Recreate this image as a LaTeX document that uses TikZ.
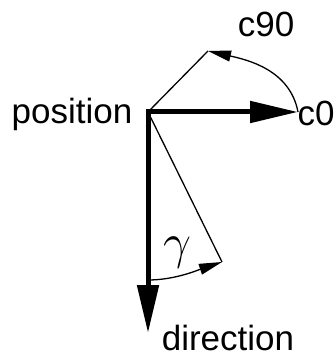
\documentclass[tikz,border=0pt]{standalone}
\usepackage{fontspec}
\setmainfont{Liberation Sans}
\usetikzlibrary{arrows.meta}

\begin{document}
\begin{tikzpicture}[x=0.5pt, y=-0.5pt, every node/.style={font=\fontsize{17.5}{20}\selectfont, inner sep=0pt},
    lbl/.style={anchor=base},
    vec/.style={line width=2.5pt, line join=miter},
    ray/.style={line width=0.65pt},
    bigtip/.tip={Triangle[length=24pt, width=10.5pt]},
    smalltip/.tip={Triangle[length=11.5pt, width=5.5pt]}]
        \useasboundingbox (0,0) rectangle (335,356);
        \coordinate (pos) at (148,112);
        \coordinate (c0tip) at (298,112);
        \coordinate (dirtip) at (148,333);
        \coordinate (c90pt) at (208,51);
        \coordinate (gpt) at (222,262);
        \coordinate (gstart) at (148,280);
        \node[lbl] (position) at (72,124) {position};
        \node[lbl] (c0) at (316,126) {c0};
        \node[lbl] (c90) at (266,37) {c90};
        \node[lbl] (direction) at (228,350) {direction};
        \node[font=\fontsize{23}{26}\selectfont] (gamma) at (177,253) {$\gamma$};
        \draw[vec, {bigtip}-{bigtip}] (c0tip) -- (pos) -- (dirtip);
        \draw[ray] (pos) -- (c90pt);
        \draw[ray] (pos) -- (gpt);
        \draw[ray, -{smalltip}] (c0tip) .. controls (290,70) and (248,60) .. (c90pt);
        \draw[ray, -{smalltip}] (gstart) .. controls (175,280) and (198,270) .. (gpt);
      \end{tikzpicture}
\end{document}
